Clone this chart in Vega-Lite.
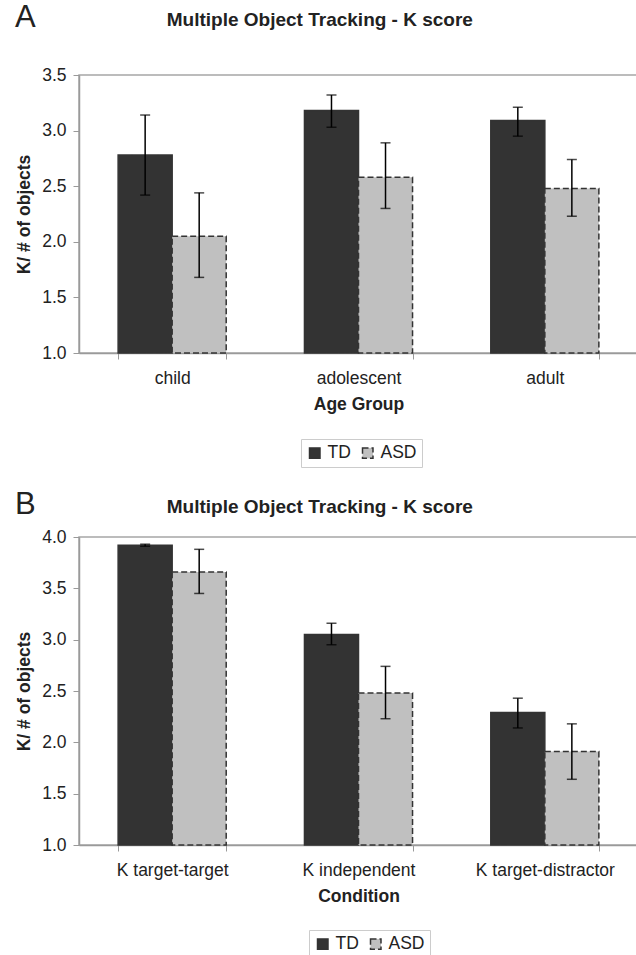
{
  "$schema": "https://vega.github.io/schema/vega-lite/v6.json",
  "padding": {"top": 2, "left": 14, "right": 0, "bottom": 0},
  "background": "white",
  "config": {
    "font": "Liberation Sans",
    "view": {"stroke": "#a6a6a6", "strokeWidth": 1.5},
    "axis": {
      "grid": false,
      "domainColor": "#9a9a9a",
      "domainWidth": 1.5,
      "tickColor": "#9a9a9a",
      "tickSize": 6,
      "labelColor": "#222222",
      "titleColor": "#222222",
      "labelFontSize": 17.5,
      "titleFontSize": 17.5,
      "titleFontWeight": "bold",
      "labelFont": "Liberation Sans",
      "titleFont": "Liberation Sans"
    },
    "title": {"fontSize": 19, "fontWeight": "bold", "color": "#222222", "font": "Liberation Sans"},
    "legend": {"labelFontSize": 17.5, "labelColor": "#222222", "labelFont": "Liberation Sans"}
  },
  "datasets": {
    "age": [
      {"group": "child", "dx": "TD", "mean": 2.78, "lo": 2.42, "hi": 3.14},
      {"group": "child", "dx": "ASD", "mean": 2.05, "lo": 1.68, "hi": 2.44},
      {"group": "adolescent", "dx": "TD", "mean": 3.18, "lo": 3.03, "hi": 3.32},
      {"group": "adolescent", "dx": "ASD", "mean": 2.58, "lo": 2.30, "hi": 2.89},
      {"group": "adult", "dx": "TD", "mean": 3.09, "lo": 2.95, "hi": 3.21},
      {"group": "adult", "dx": "ASD", "mean": 2.48, "lo": 2.23, "hi": 2.74}
    ],
    "cond": [
      {"group": "K target-target", "dx": "TD", "mean": 3.92, "lo": 3.91, "hi": 3.93},
      {"group": "K target-target", "dx": "ASD", "mean": 3.66, "lo": 3.45, "hi": 3.88},
      {"group": "K independent", "dx": "TD", "mean": 3.05, "lo": 2.95, "hi": 3.16},
      {"group": "K independent", "dx": "ASD", "mean": 2.48, "lo": 2.23, "hi": 2.74},
      {"group": "K target-distractor", "dx": "TD", "mean": 2.29, "lo": 2.14, "hi": 2.43},
      {"group": "K target-distractor", "dx": "ASD", "mean": 1.91, "lo": 1.64, "hi": 2.18}
    ]
  },
  "spacing": 20,
  "resolve": {
    "scale": {"color": "independent", "stroke": "independent", "strokeDash": "independent"},
    "legend": {"color": "independent", "stroke": "independent", "strokeDash": "independent"}
  },
  "vconcat": [
    {
      "title": {"text": "A", "anchor": "start", "frame": "bounds", "fontSize": 31, "fontWeight": "normal", "offset": -24},
      "resolve": {
        "scale": {"color": "independent", "stroke": "independent", "strokeDash": "independent"},
        "legend": {"color": "independent", "stroke": "independent", "strokeDash": "independent"}
      },
      "vconcat": [
        {
          "width": 559,
          "height": 278,
          "data": {"name": "age"},
          "title": {"text": "Multiple Object Tracking - K score", "anchor": "middle", "frame": "bounds", "offset": 36, "dx": -7},
          "encoding": {
            "x": {
              "field": "group", "type": "nominal",
              "sort": ["child", "adolescent", "adult"],
              "scale": {"paddingInner": 0.42, "paddingOuter": 0.21},
              "axis": {"title": "Age Group", "labelAngle": 0, "tickBand": "extent", "labelPadding": 10, "titlePadding": 9}
            },
            "xOffset": {"field": "dx", "type": "nominal", "sort": ["TD", "ASD"], "scale": {"paddingInner": 0, "paddingOuter": 0}}
          },
          "layer": [
            {
              "mark": {"type": "bar", "strokeWidth": 1.5},
              "encoding": {
                "y": {
                  "field": "mean", "type": "quantitative",
                  "scale": {"domain": [1, 3.5], "zero": false, "nice": false},
                  "axis": {"title": "K/ # of objects", "values": [1, 1.5, 2, 2.5, 3, 3.5], "format": ".1f", "labelPadding": 7, "titlePadding": 8}
                },
                "y2": {"datum": 1},
                "color": {
                  "field": "dx", "type": "nominal",
                  "scale": {"domain": ["TD", "ASD"], "range": ["#333333", "#c0c0c0"]},
                  "legend": {"orient": "none", "legendX": 222, "legendY": 364, "direction": "horizontal", "title": null, "symbolType": "square", "symbolSize": 110, "symbolStrokeWidth": 1.5, "strokeColor": "#cccccc", "padding": 5, "columnPadding": 8, "labelOffset": 4}
                },
                "stroke": {
                  "field": "dx", "type": "nominal",
                  "scale": {"domain": ["TD", "ASD"], "range": ["#333333", "#333333"]}
                },
                "strokeDash": {
                  "field": "dx", "type": "nominal",
                  "scale": {"domain": ["TD", "ASD"], "range": [[1, 0], [6, 3]]}
                }
              }
            },
            {
              "mark": {"type": "rule", "color": "#000000", "strokeWidth": 1.5},
              "encoding": {
                "y": {"field": "lo", "type": "quantitative"},
                "y2": {"field": "hi"}
              }
            },
            {
              "mark": {"type": "tick", "color": "#000000", "size": 10, "thickness": 1.5, "orient": "horizontal"},
              "encoding": {"y": {"field": "hi", "type": "quantitative"}}
            },
            {
              "mark": {"type": "tick", "color": "#000000", "size": 10, "thickness": 1.5, "orient": "horizontal"},
              "encoding": {"y": {"field": "lo", "type": "quantitative"}}
            }
          ]
        }
      ]
    },
    {
      "title": {"text": "B", "anchor": "start", "frame": "bounds", "fontSize": 31, "fontWeight": "normal", "offset": -24},
      "resolve": {
        "scale": {"color": "independent", "stroke": "independent", "strokeDash": "independent"},
        "legend": {"color": "independent", "stroke": "independent", "strokeDash": "independent"}
      },
      "vconcat": [
        {
          "width": 559,
          "height": 308,
          "data": {"name": "cond"},
          "title": {"text": "Multiple Object Tracking - K score", "anchor": "middle", "frame": "bounds", "offset": 11, "dx": -7},
          "encoding": {
            "x": {
              "field": "group", "type": "nominal",
              "sort": ["K target-target", "K independent", "K target-distractor"],
              "scale": {"paddingInner": 0.42, "paddingOuter": 0.21},
              "axis": {"title": "Condition", "labelAngle": 0, "tickBand": "extent", "labelPadding": 10, "titlePadding": 9}
            },
            "xOffset": {"field": "dx", "type": "nominal", "sort": ["TD", "ASD"], "scale": {"paddingInner": 0, "paddingOuter": 0}}
          },
          "layer": [
            {
              "mark": {"type": "bar", "strokeWidth": 1.5},
              "encoding": {
                "y": {
                  "field": "mean", "type": "quantitative",
                  "scale": {"domain": [1, 4], "zero": false, "nice": false},
                  "axis": {"title": "K/ # of objects", "values": [1, 1.5, 2, 2.5, 3, 3.5, 4], "format": ".1f", "labelPadding": 7, "titlePadding": 8}
                },
                "y2": {"datum": 1},
                "color": {
                  "field": "dx", "type": "nominal",
                  "scale": {"domain": ["TD", "ASD"], "range": ["#333333", "#c0c0c0"]},
                  "legend": {"orient": "none", "legendX": 230, "legendY": 393, "direction": "horizontal", "title": null, "symbolType": "square", "symbolSize": 110, "symbolStrokeWidth": 1.5, "strokeColor": "#cccccc", "padding": 5, "columnPadding": 8, "labelOffset": 4}
                },
                "stroke": {
                  "field": "dx", "type": "nominal",
                  "scale": {"domain": ["TD", "ASD"], "range": ["#333333", "#333333"]}
                },
                "strokeDash": {
                  "field": "dx", "type": "nominal",
                  "scale": {"domain": ["TD", "ASD"], "range": [[1, 0], [6, 3]]}
                }
              }
            },
            {
              "mark": {"type": "rule", "color": "#000000", "strokeWidth": 1.5},
              "encoding": {
                "y": {"field": "lo", "type": "quantitative"},
                "y2": {"field": "hi"}
              }
            },
            {
              "mark": {"type": "tick", "color": "#000000", "size": 10, "thickness": 1.5, "orient": "horizontal"},
              "encoding": {"y": {"field": "hi", "type": "quantitative"}}
            },
            {
              "mark": {"type": "tick", "color": "#000000", "size": 10, "thickness": 1.5, "orient": "horizontal"},
              "encoding": {"y": {"field": "lo", "type": "quantitative"}}
            }
          ]
        }
      ]
    }
  ]
}
